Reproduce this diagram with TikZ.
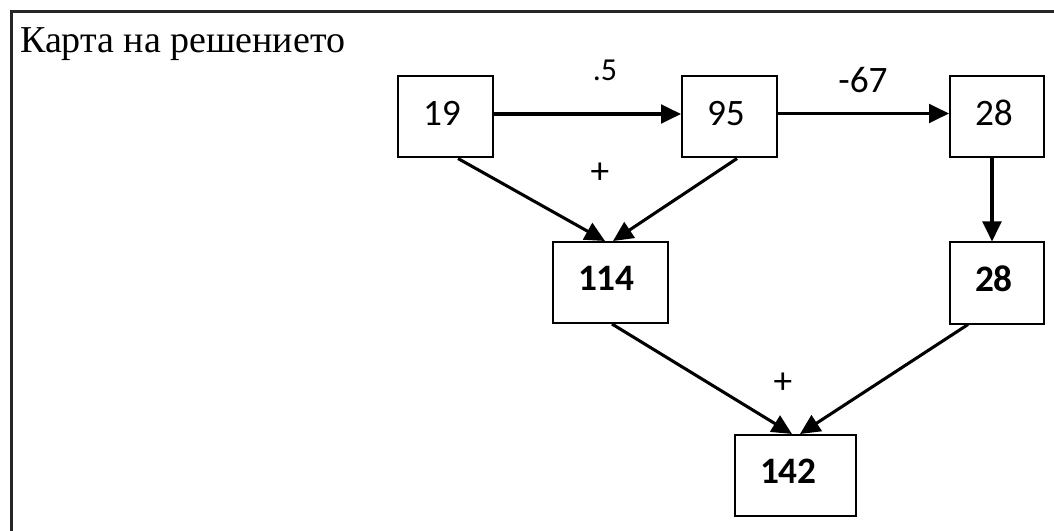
\documentclass[tikz,border=0pt]{standalone}
\usepackage{fontspec}
\setmainfont{Liberation Serif}
\newfontfamily\calib{Carlito}
\usetikzlibrary{arrows.meta,calc}

\begin{document}
\begin{tikzpicture}
  [ x=0.75pt, y=-0.75pt
  , box/.style={rectangle, draw, line width=1.5pt, minimum height=60.75pt, align=left, inner xsep=18.75pt, text depth=6pt, font=\calib\fontsize{28}{33}\selectfont}
  , sum/.style={box, font=\calib\bfseries\fontsize{28}{33}\selectfont}
  , lbl/.style={inner sep=0pt, font=\calib\fontsize{28}{33}\selectfont}
  , >={Triangle[length=15pt, width=14pt]}]
  \clip (0,0) rectangle (1054,531);
  \draw [line width=2pt, black!85] (11.5,11.5) rectangle (1080,560);
  \node (t) at (20,53) [anchor=base west, inner sep=0pt, font=\fontsize{28.5}{34}\selectfont] {Карта на решението};
  \node (0) at (445.5,117) [box, text width=33.75pt] {19};
  \node (1) at (729.5,117) [box, text width=33.75pt] {95};
  \node (2) at (997,117) [box, text width=33pt] {28};
  \node (3) at (610.5,282.5) [sum, text width=48.75pt] {114};
  \node (4) at (997,283) [sum, text width=33pt] {28};
  \node (5) at (795.5,475.5) [sum, text width=53.25pt] {142};
  \node (l0) at (605,70) [lbl, font=\calib\fontsize{24}{29}\selectfont] {.5};
  \node (l1) at (863,80) [lbl] {-67};
  \node (l2) at (600,173) [lbl] {+};
  \node (l3) at (783,383) [lbl] {+};
  \draw [->, line width=2.3pt] ($(0.east)+(0,-3)$) -- ($(1.west)+(0,-3)$);
  \draw [->, line width=2.3pt] ($(1.east)+(0,-3.5)$) -- ($(2.west)+(0,-3.5)$);
  \draw [->, line width=2.3pt] ($(2.south)+(-5,0)$) -- ($(4.north)+(-5,0)$);
  \draw [->, line width=2.3pt] ($(0.south)+(12.5,0)$) -- ($(3.north)+(-5.5,0)$);
  \draw [->, line width=2.3pt] ($(1.south)+(7.5,0)$) -- ($(3.north)+(2.5,0)$);
  \draw [->, line width=2.3pt] ($(3.south)+(1.5,0)$) -- ($(5.north)+(-3.5,0)$);
  \draw [->, line width=2.3pt] ($(4.south)+(-29,0)$) -- ($(5.north)+(4.5,0)$);
\end{tikzpicture}
\end{document}
